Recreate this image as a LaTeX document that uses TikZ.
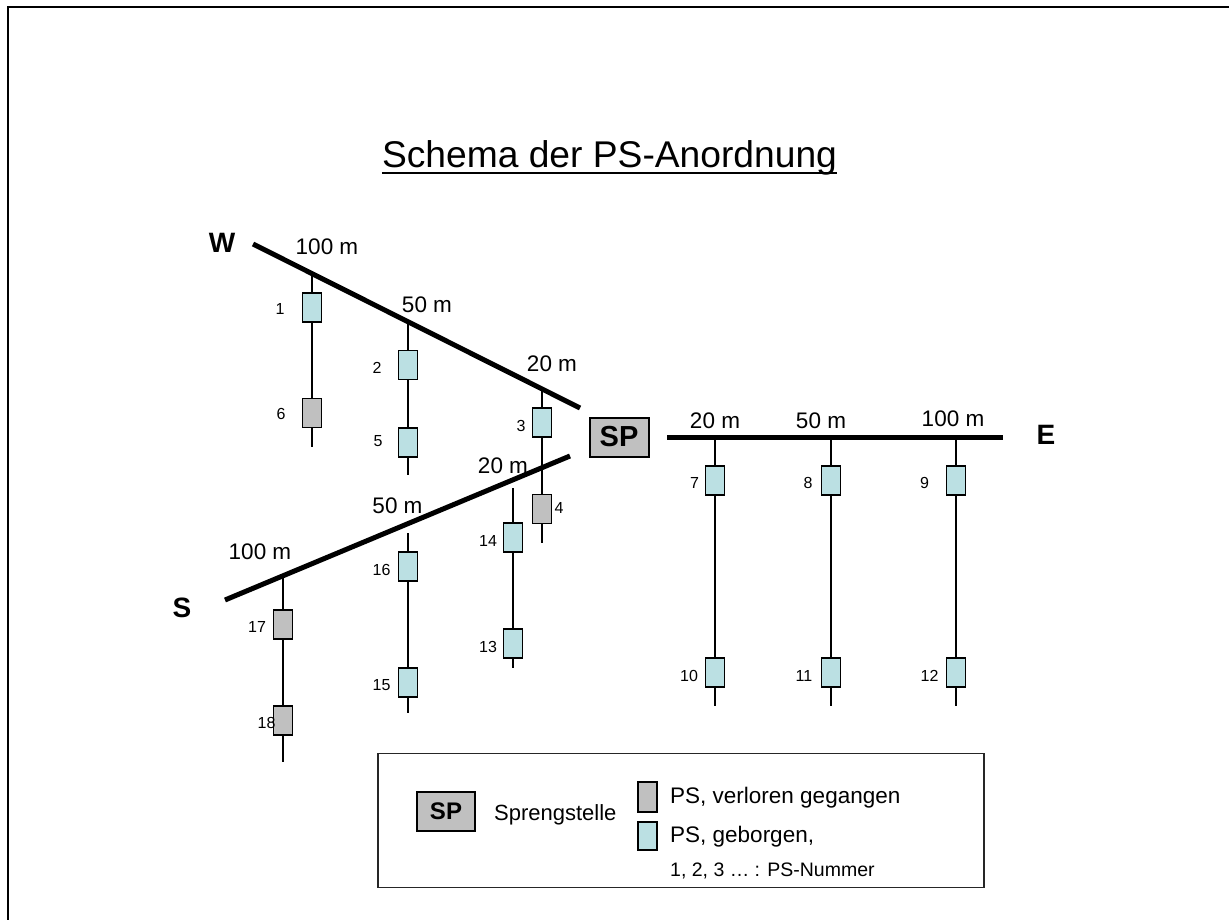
\documentclass[tikz,border=0pt]{standalone}
\usepackage{fontspec}
\setmainfont{Liberation Sans}
\definecolor{psgray}{RGB}{192,192,192}
\definecolor{pscyan}{RGB}{187,224,227}
\begin{document}
\begin{tikzpicture}[x=1pt,y=-1pt,
  ps/.style={draw=black, line width=1.1pt, minimum width=19pt, minimum height=29pt, inner sep=0pt, rectangle},
  found/.style={ps, fill=pscyan},
  lost/.style={ps, fill=psgray},
  num/.style={font=\fontsize{16}{16}\selectfont, inner sep=0pt},
  dist/.style={font=\fontsize{22.5}{22.5}\selectfont, inner sep=0pt},
  dir/.style={font=\fontsize{28}{28}\selectfont\bfseries, inner sep=0pt},
  profile/.style={line width=5pt},
  wire/.style={line width=1.1pt},
  spbox/.style={draw, line width=2pt, fill=psgray, inner sep=0pt, minimum width=59pt, minimum height=39pt},
  legtext/.style={font=\fontsize{22.5}{22.5}\selectfont, inner sep=0pt, anchor=base west}
]
\useasboundingbox (0,0) rectangle (1229,920);

% outer frame
\coordinate (fbl) at (8,921);
\coordinate (ftl) at (8,7);
\coordinate (ftr) at (1230,7);
\draw[line width=2.5pt] (fbl) -- (ftl) -- (ftr);

% title
\node[font=\fontsize{37.2}{40}\selectfont, inner sep=0pt, anchor=base] (title) at (609.5,168) {Schema der PS-Anordnung};
\draw[line width=2pt] ([yshift=-5pt]title.base west) -- ([yshift=-5pt]title.base east);

% profile lines
\coordinate (Wa) at (253,244);
\coordinate (Wb) at (580,408);
\coordinate (Sa) at (225,600);
\coordinate (Sb) at (570,456);
\coordinate (Ea) at (667,437);
\coordinate (Eb) at (1003,437);
\draw[profile] (Wa) -- (Wb);
\draw[profile] (Sa) -- (Sb);
\draw[profile] (Ea) -- (Eb);

\node[dir] (W) at (222,243) {W};
\node[dir] (S) at (182,608) {S};
\node[dir] (E) at (1046,435) {E};

\node[spbox, font=\fontsize{29}{29}\selectfont\bfseries] (SP) at (619,437) {SP};

% distance labels
\node[dist] (dW100) at (327,247) {100 m};
\node[dist] (dW50) at (427,304.5) {50 m};
\node[dist] (dW20) at (552,363.5) {20 m};
\node[dist] (dS100) at (260,551.5) {100 m};
\node[dist] (dS50) at (397.5,506) {50 m};
\node[dist] (dS20) at (503,466) {20 m};
\node[dist] (dE20) at (715,421) {20 m};
\node[dist] (dE50) at (821,421) {50 m};
\node[dist] (dE100) at (953,419) {100 m};

% PS boxes, W profile
\node[found] (p1) at (312,307.5) {};
\node[lost]  (p6) at (312,413) {};
\node[found] (p2) at (408,365) {};
\node[found] (p5) at (408,442.5) {};
\node[found] (p3) at (542,422.5) {};
\node[lost]  (p4) at (542,509) {};
% S profile
\node[found] (p14) at (513,537.5) {};
\node[found] (p13) at (513,643.5) {};
\node[found] (p16) at (408,566.5) {};
\node[found] (p15) at (408,682.5) {};
\node[lost]  (p17) at (283,624.5) {};
\node[lost]  (p18) at (283,720.5) {};
% E profile
\node[found] (p7) at (715,480.5) {};
\node[found] (p8) at (831,480.5) {};
\node[found] (p9) at (956,480.5) {};
\node[found] (p10) at (715,672.5) {};
\node[found] (p11) at (831,672.5) {};
\node[found] (p12) at (956,672.5) {};

% line ends
\coordinate (t1) at (312,273.6);  \coordinate (b1) at (312,447);
\coordinate (t2) at (408,321.7);  \coordinate (b2) at (408,475);
\coordinate (t3) at (542,388.9);  \coordinate (b3) at (542,543);
\coordinate (t17) at (283,575.8); \coordinate (b17) at (283,762);
\coordinate (t16) at (408,533);   \coordinate (b16) at (408,713);
\coordinate (t14) at (513,488);   \coordinate (b14) at (513,668);
\coordinate (t7) at (715,437);    \coordinate (b7) at (715,706);
\coordinate (t8) at (831,437);    \coordinate (b8) at (831,706);
\coordinate (t9) at (956,437);    \coordinate (b9) at (956,706);

\draw[wire] (t1) -- (p1); \draw[wire] (p1) -- (p6); \draw[wire] (p6) -- (b1);
\draw[wire] (t2) -- (p2); \draw[wire] (p2) -- (p5); \draw[wire] (p5) -- (b2);
\draw[wire] (t3) -- (p3); \draw[wire] (p3) -- (p4); \draw[wire] (p4) -- (b3);
\draw[wire] (t17) -- (p17); \draw[wire] (p17) -- (p18); \draw[wire] (p18) -- (b17);
\draw[wire] (t16) -- (p16); \draw[wire] (p16) -- (p15); \draw[wire] (p15) -- (b16);
\draw[wire] (t14) -- (p14); \draw[wire] (p14) -- (p13); \draw[wire] (p13) -- (b14);
\draw[wire] (t7) -- (p7); \draw[wire] (p7) -- (p10); \draw[wire] (p10) -- (b7);
\draw[wire] (t8) -- (p8); \draw[wire] (p8) -- (p11); \draw[wire] (p11) -- (b8);
\draw[wire] (t9) -- (p9); \draw[wire] (p9) -- (p12); \draw[wire] (p12) -- (b9);

% numbers
\node[num] (n1) at (280,308.5) {1};
\node[num] (n6) at (281,414) {6};
\node[num] (n2) at (377,368) {2};
\node[num] (n5) at (378,441) {5};
\node[num] (n3) at (521,426) {3};
\node[num] (n4) at (559,508) {4};
\node[num] (n14) at (488,541) {14};
\node[num] (n13) at (488,647) {13};
\node[num] (n16) at (381.5,570) {16};
\node[num] (n15) at (381.5,685) {15};
\node[num] (n17) at (257,627) {17};
\node[num] (n18) at (266.5,723) {18};
\node[num] (n7) at (694.5,483) {7};
\node[num] (n8) at (808,483) {8};
\node[num] (n9) at (924.5,483) {9};
\node[num] (n10) at (689,676) {10};
\node[num] (n11) at (804,676) {11};
\node[num] (n12) at (929.5,676) {12};

% legend
\node[draw=black!85, line width=1.2pt, minimum width=606pt, minimum height=134pt, inner sep=0pt] (legend) at (681,820.5) {};
\node[spbox, minimum width=58pt, font=\fontsize{24}{24}\selectfont\bfseries] (lsp) at (446,811.5) {SP};
\node[legtext, font=\fontsize{22}{22}\selectfont] (lsptext) at (494,820) {Sprengstelle};
\node[lost, minimum height=30pt] (llost) at (647.5,797) {};
\node[found, minimum height=28pt] (lfound) at (647.5,836) {};
\node[legtext] (llosttext) at (670,803) {PS, verloren gegangen};
\node[legtext] (lfoundtext) at (670,842) {PS, geborgen,};
\node[legtext, font=\fontsize{19.5}{19.5}\selectfont] (lnum) at (670,876) {1, 2, 3 … : PS-Nummer};
\end{tikzpicture}
\end{document}
